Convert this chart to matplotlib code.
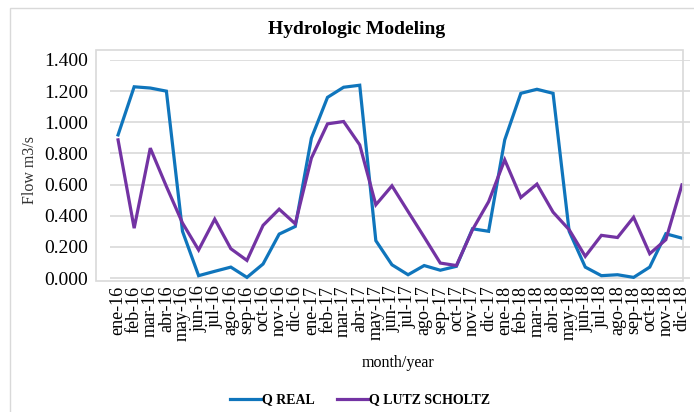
import matplotlib
matplotlib.use('Agg')
import matplotlib.pyplot as plt
from matplotlib.patches import Rectangle

# Data
months = ['ene-16', 'feb-16', 'mar-16', 'abr-16', 'may-16', 'jun-16', 'jul-16', 'ago-16',
          'sep-16', 'oct-16', 'nov-16', 'dic-16',
          'ene-17', 'feb-17', 'mar-17', 'abr-17', 'may-17', 'jun-17', 'jul-17', 'ago-17',
          'sep-17', 'oct-17', 'nov-17', 'dic-17',
          'ene-18', 'feb-18', 'mar-18', 'abr-18', 'may-18', 'jun-18', 'jul-18', 'ago-18',
          'sep-18', 'oct-18', 'nov-18', 'dic-18']

q_real = [0.919, 1.228, 1.22, 1.20, 0.30, 0.015, 0.043, 0.07, 0.004, 0.09, 0.282, 0.331,
          0.898, 1.16, 1.225, 1.238, 0.24, 0.085, 0.021, 0.08, 0.05, 0.075, 0.316, 0.30,
          0.887, 1.186, 1.212, 1.186, 0.30, 0.07, 0.015, 0.021, 0.004, 0.07, 0.284, 0.256]

q_lutz = [0.887, 0.32, 0.834, 0.588, 0.353, 0.18, 0.378, 0.188, 0.113, 0.338, 0.442, 0.348,
          0.77, 0.99, 1.005, 0.855, 0.47, 0.592, 0.427, 0.263, 0.096, 0.08, 0.31, 0.49,
          0.759, 0.517, 0.603, 0.423, 0.31, 0.139, 0.274, 0.26, 0.39, 0.156, 0.246, 0.598]

yticks = [0.0, 0.2, 0.4, 0.6, 0.8, 1.0, 1.2, 1.4]

W, H = 694, 412
serif = 'Liberation Serif'
grid_col = '#D9D9D9'

fig = plt.figure(figsize=(W / 100, H / 100), dpi=100)

# outer chart border and plot-area border (pixel coords -> figure fraction)
def px(x, y):
    return x / W, 1 - y / H

x0, y0 = px(10, 8)
fig.patches.append(Rectangle((x0, -0.1), 1.2, y0 + 0.1, transform=fig.transFigure,
                             fill=False, edgecolor=grid_col, lw=1))
fx0, fy0 = px(96, 281)
fx1, fy1 = px(683, 50)
fig.patches.append(Rectangle((fx0, fy0), fx1 - fx0, fy1 - fy0, transform=fig.transFigure,
                             fill=False, edgecolor=grid_col, lw=1.2))

ax = fig.add_axes([110 / W, 1 - 280 / H, 580 / W, 220 / H])
ax.set_facecolor('none')

x = list(range(len(months)))
ax.plot(x, q_real, color='#0F75BC', lw=2.3, label='Q REAL', solid_joinstyle='miter')
ax.plot(x, q_lutz, color='#7333A3', lw=2.3, label='Q LUTZ SCHOLTZ', solid_joinstyle='miter')

ax.set_xlim(-0.5, len(months) - 0.5)
ax.set_ylim(-0.0128, 1.4)
ax.set_yticks(yticks)
ax.set_yticklabels([f'{v:.3f}' for v in yticks], fontfamily=serif, fontsize=14)
ax.set_xticks(x)
ax.set_xticklabels(months, rotation=90, fontfamily=serif, fontsize=13)
ax.tick_params(axis='y', length=0, pad=16)
ax.tick_params(axis='x', length=0, pad=4)

ax.grid(axis='y', color=grid_col, lw=1.2)
ax.set_axisbelow(True)
for s in ax.spines.values():
    s.set_visible(False)

ax.set_ylabel('Flow m3/s', fontfamily=serif, fontsize=11.5, color='#333333')
ax.yaxis.set_label_coords(-0.124, 0.5)

fig.text(398 / W, 1 - 363 / H, 'month/year', ha='center', va='center',
         fontfamily=serif, fontsize=11.5)

fig.text(357 / W, 1 - 30 / H, 'Hydrologic Modeling', ha='center', va='center',
         fontfamily=serif, fontsize=14, fontweight='bold')

leg = fig.legend(loc='center', bbox_to_anchor=(360 / W, 1 - 400 / H), ncol=2, frameon=False,
                 prop={'family': serif, 'size': 10, 'weight': 'bold'},
                 handlelength=2.2, handletextpad=0.1, columnspacing=1.6)

fig.savefig('out.png', dpi=100)
